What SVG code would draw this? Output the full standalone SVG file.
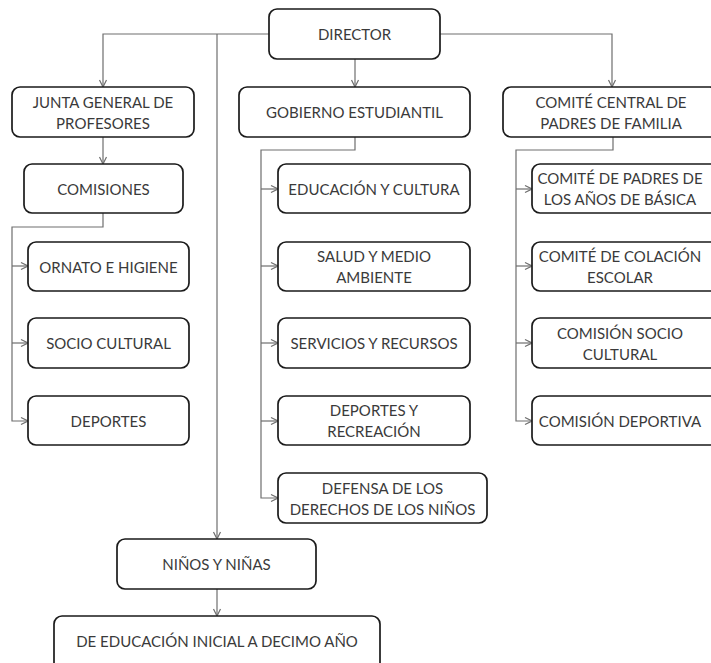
<svg xmlns="http://www.w3.org/2000/svg" width="711" height="663" viewBox="0 0 711 663">
<defs>
<marker id="arr" viewBox="0 0 10 10" refX="10" refY="5" markerWidth="10" markerHeight="10" markerUnits="userSpaceOnUse" orient="auto">
<polyline points="3,1.5 10,5 3,8.5" fill="none" stroke="#6e6e6e" stroke-width="1.2"/>
</marker>
<style>
.box{fill:#fff;stroke:#1a1a1a;stroke-width:1.7}
.t{font-family:Lato,"Liberation Sans",sans-serif;font-size:15px;fill:#3a3a3a;text-anchor:middle;dominant-baseline:central}
.c{fill:none;stroke:#6e6e6e;stroke-width:1.2}
</style>
</defs>
<rect width="711" height="663" fill="#fff"/>
<g id="connectors">
<polyline class="c" points="269,34 103,34 103,87" marker-end="url(#arr)"/>
<polyline class="c" points="217,34 217,539" marker-end="url(#arr)"/>
<polyline class="c" points="440,34 612,34 612,87" marker-end="url(#arr)"/>
<polyline class="c" points="355,59 355,87" marker-end="url(#arr)"/>
<polyline class="c" points="103,137 103,164" marker-end="url(#arr)"/>
<polyline class="c" points="103,213 103,227 12,227 12,421 28,421" marker-end="url(#arr)"/>
<polyline class="c" points="12,266 28,266" marker-end="url(#arr)"/>
<polyline class="c" points="12,343 28,343" marker-end="url(#arr)"/>
<polyline class="c" points="355,137 355,150 261,150 261,498 278,498" marker-end="url(#arr)"/>
<polyline class="c" points="261,189 278,189" marker-end="url(#arr)"/>
<polyline class="c" points="261,266 278,266" marker-end="url(#arr)"/>
<polyline class="c" points="261,343 278,343" marker-end="url(#arr)"/>
<polyline class="c" points="261,421 278,421" marker-end="url(#arr)"/>
<polyline class="c" points="613,137 613,150 516,150 516,421 532,421" marker-end="url(#arr)"/>
<polyline class="c" points="516,189 532,189" marker-end="url(#arr)"/>
<polyline class="c" points="516,266 532,266" marker-end="url(#arr)"/>
<polyline class="c" points="516,343 532,343" marker-end="url(#arr)"/>
<polyline class="c" points="217,589 217,616" marker-end="url(#arr)"/>
</g>
<g id="director"><rect class="box" x="269" y="9" width="171" height="50" rx="8"/><text class="t" x="354.5" y="34">DIRECTOR</text></g>
<g id="junta"><rect class="box" x="12" y="87" width="182" height="50" rx="8"/><text class="t" x="103" y="101.5">JUNTA GENERAL DE</text><text class="t" x="103" y="122.5">PROFESORES</text></g>
<g id="comisiones"><rect class="box" x="24" y="164" width="159" height="49" rx="8"/><text class="t" x="103.5" y="188.5">COMISIONES</text></g>
<g id="ornato"><rect class="box" x="28" y="242" width="161" height="49" rx="8"/><text class="t" x="108.5" y="266.5">ORNATO E HIGIENE</text></g>
<g id="socio"><rect class="box" x="28" y="318" width="161" height="50" rx="8"/><text class="t" x="108.5" y="343">SOCIO CULTURAL</text></g>
<g id="deportes"><rect class="box" x="28" y="396" width="161" height="49" rx="8"/><text class="t" x="108.5" y="420.5">DEPORTES</text></g>
<g id="gobierno"><rect class="box" x="239" y="87" width="231" height="50" rx="8"/><text class="t" x="354.5" y="112">GOBIERNO ESTUDIANTIL</text></g>
<g id="educacion"><rect class="box" x="278" y="164" width="192" height="49" rx="8"/><text class="t" x="374" y="188.5">EDUCACIÓN Y CULTURA</text></g>
<g id="salud"><rect class="box" x="278" y="242" width="192" height="49" rx="8"/><text class="t" x="374" y="256">SALUD Y MEDIO</text><text class="t" x="374" y="277">AMBIENTE</text></g>
<g id="servicios"><rect class="box" x="278" y="318" width="192" height="50" rx="8"/><text class="t" x="374" y="343">SERVICIOS Y RECURSOS</text></g>
<g id="recreacion"><rect class="box" x="278" y="396" width="192" height="49" rx="8"/><text class="t" x="374" y="410">DEPORTES Y</text><text class="t" x="374" y="431">RECREACIÓN</text></g>
<g id="defensa"><rect class="box" x="278" y="473" width="209" height="50" rx="8"/><text class="t" x="382.5" y="487.5">DEFENSA DE LOS</text><text class="t" x="382.5" y="508.5">DERECHOS DE LOS NIÑOS</text></g>
<g id="comite-central"><rect class="box" x="503" y="87" width="215" height="50" rx="8"/><text class="t" x="611" y="101.5">COMITÉ CENTRAL DE</text><text class="t" x="611" y="122.5">PADRES DE FAMILIA</text></g>
<g id="comite-padres"><rect class="box" x="532" y="164" width="190" height="49" rx="8"/><text class="t" x="620" y="178">COMITÉ DE PADRES DE</text><text class="t" x="620" y="199">LOS AÑOS DE BÁSICA</text></g>
<g id="colacion"><rect class="box" x="532" y="242" width="190" height="49" rx="8"/><text class="t" x="620" y="256">COMITÉ DE COLACIÓN</text><text class="t" x="620" y="277">ESCOLAR</text></g>
<g id="comision-socio"><rect class="box" x="532" y="318" width="190" height="50" rx="8"/><text class="t" x="620" y="332.5">COMISIÓN SOCIO</text><text class="t" x="620" y="353.5">CULTURAL</text></g>
<g id="comision-deportiva"><rect class="box" x="532" y="396" width="190" height="49" rx="8"/><text class="t" x="620" y="420.5">COMISIÓN DEPORTIVA</text></g>
<g id="ninos"><rect class="box" x="117" y="539" width="199" height="50" rx="8"/><text class="t" x="216.5" y="564">NIÑOS Y NIÑAS</text></g>
<g id="inicial"><rect class="box" x="54" y="616" width="326" height="56" rx="8"/><text class="t" x="217" y="641">DE EDUCACIÓN INICIAL A DECIMO AÑO</text></g>
</svg>
